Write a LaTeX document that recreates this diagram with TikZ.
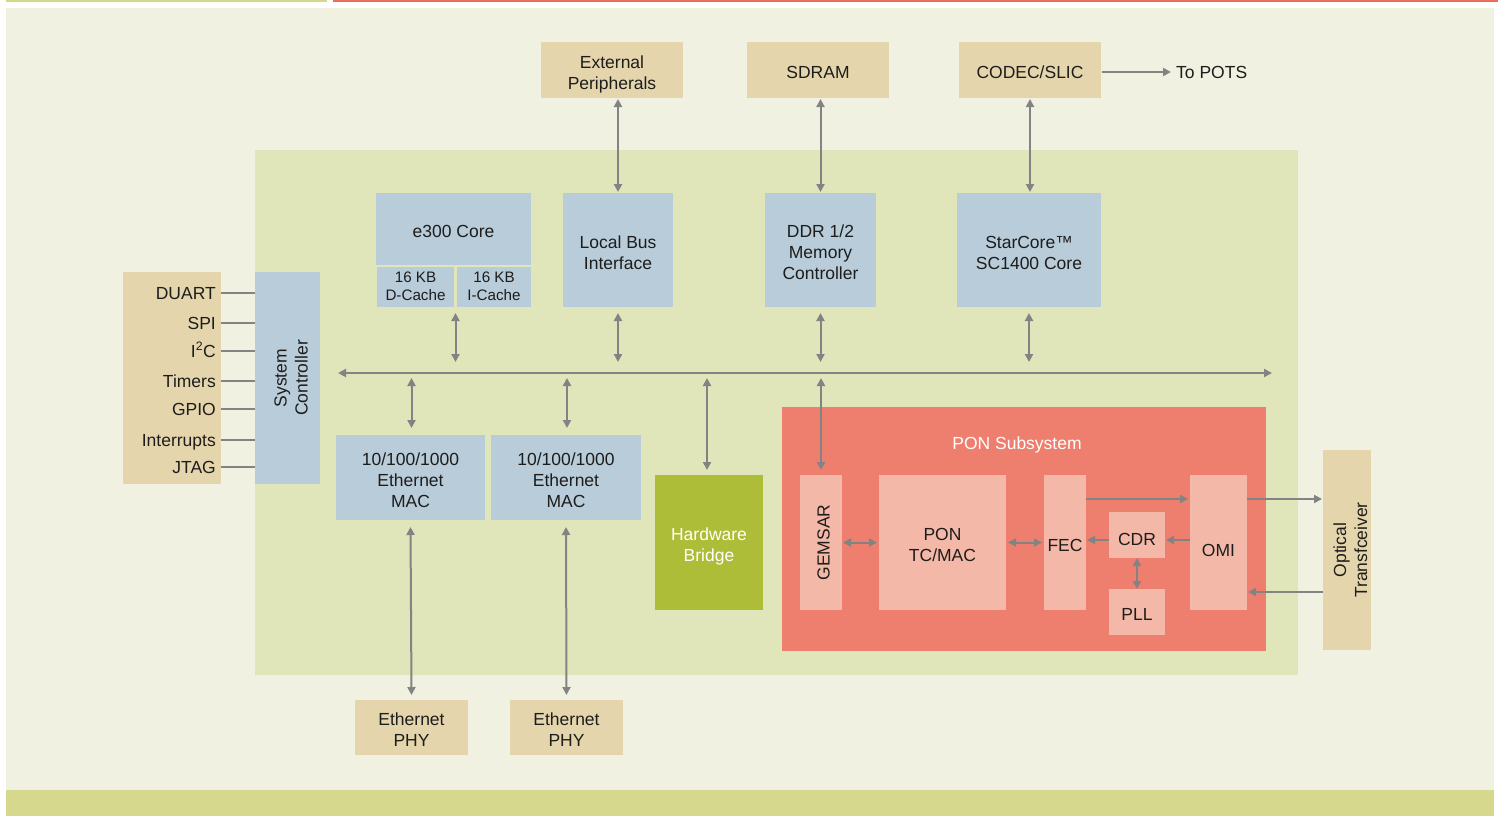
\documentclass[tikz,border=0pt]{standalone}
\usepackage{fontspec}
\setmainfont{Liberation Sans}
\usetikzlibrary{arrows.meta,calc}
\definecolor{creambg}{HTML}{F1F1E2}
\definecolor{chipbg}{HTML}{E1E5BA}
\definecolor{stripc}{HTML}{D6D88E}
\definecolor{topgreen}{HTML}{D4D98A}
\definecolor{topred}{HTML}{EE6B5B}
\definecolor{tanc}{HTML}{E5D5AC}
\definecolor{bluec}{HTML}{B9CCDA}
\definecolor{ponc}{HTML}{EE7F6F}
\definecolor{pinkc}{HTML}{F4B8A8}
\definecolor{hwc}{HTML}{AEBD37}
\definecolor{arrc}{HTML}{838383}
\definecolor{txt}{HTML}{1D1D1B}
\def\lsT{21.2pt}
\def\lsD{4pt}
\newcommand\tstrut{\rule{0pt}{\lsT}}
\newcommand\bstrut{\rule[-\lsD]{0pt}{\lsD}}
\newcommand\bx[7]{\node[boxbase,#6, minimum width={(#4-#2)*1pt}, minimum height={(#5-#3)*1pt}] (#1) at ({(#2+#4)/2},{(#3+#5)/2}) {\tstrut#7\bstrut};}
\tikzset{
  boxbase/.style={inner sep=0pt, outer sep=0pt, align=center, text=txt, font=\fontsize{17.5}{21}\selectfont},
  tanbox/.style={fill=tanc},
  bluebox/.style={fill=bluec},
  pinkbox/.style={fill=pinkc},
  hwbox/.style={fill=hwc, text=white},
  lbl/.style={inner sep=0pt, text=txt, font=\fontsize{17.5}{21}\selectfont, align=center},
  darr/.style={draw=arrc, line width=2pt, {Triangle[length=8pt,width=8pt]}-{Triangle[length=8pt,width=8pt]}},
  arr/.style={draw=arrc, line width=2pt, -{Triangle[length=8pt,width=8pt]}},
  pline/.style={draw=arrc, line width=2.2pt}
}
\begin{document}
\begin{tikzpicture}[x=1pt,y=-1pt]
\useasboundingbox (0,0) rectangle (1498,816);
% backgrounds
\fill[creambg] (6,8) rectangle (1494,790);
\fill[stripc] (6,790) rectangle (1494,816);
\fill[topgreen] (6,0) rectangle (327,2);
\fill[topred] (333,0) rectangle (1498,2);
\fill[chipbg] (255,150) rectangle (1298,675);

% top external boxes
\bx{ext}{541}{42}{683}{98}{tanbox}{External\\Peripherals}
\bx{sdram}{747}{42}{889}{98}{tanbox}{SDRAM}
\bx{codec}{959}{42}{1101}{98}{tanbox}{CODEC/SLIC}
\node[lbl, anchor=west] (pots) at (1176,69.5) {\tstrut To POTS\bstrut};

% inner top boxes
\bx{e300}{376}{193}{531}{265}{bluebox}{e300 Core}
\bx{dc}{377}{267}{454}{307}{bluebox,font={\fontsize{15.2}{18}\selectfont\def\lsT{12.9pt}}}{16 KB\\D-Cache}
\bx{ic}{457}{267}{531}{307}{bluebox,font={\fontsize{15.2}{18}\selectfont\def\lsT{12.9pt}}}{16 KB\\I-Cache}
\bx{lbi}{563}{193}{673}{307}{bluebox}{Local Bus\\Interface}
\bx{ddr}{765}{193}{876}{307}{bluebox}{DDR 1/2\\Memory\\Controller}
\bx{sc14}{957}{193}{1101}{307}{bluebox}{StarCore™\\SC1400 Core}

% system controller and peripherals
\bx{periph}{123}{272}{221}{484}{tanbox}{}
\bx{sysc}{255}{272}{320}{484}{bluebox}{}
\node[lbl, rotate=90] at ([xshift=1pt]sysc.center) {\tstrut System\\Controller\bstrut};
\foreach \nm/\t/\yy in {duart/DUART/293, spi/SPI/323, itc/{I\textsuperscript{2}C}/351, tim/Timers/381, gpio/GPIO/409, intr/Interrupts/440, jtag/JTAG/467}{
  \node[lbl, anchor=east] (\nm) at (216,\yy-2.5) {\tstrut\t\bstrut};
  \draw[pline] (periph.east |- 0,\yy) -- (sysc.west |- 0,\yy);
}

% bus
\coordinate (busL) at (338,373);
\coordinate (busR) at (1272,373);
\draw[darr] (busL) -- (busR);

% MACs etc
\bx{mac1}{336}{435}{485}{520}{bluebox}{10/100/1000\\Ethernet\\MAC}
\bx{mac2}{491}{435}{641}{520}{bluebox}{10/100/1000\\Ethernet\\MAC}
\bx{hwb}{655}{475}{763}{610}{hwbox}{Hardware\\Bridge}
\bx{phy1}{355}{700}{468}{755}{tanbox}{Ethernet\\PHY}
\bx{phy2}{510}{700}{623}{755}{tanbox}{Ethernet\\PHY}

% PON subsystem
\bx{pon}{782}{407}{1266}{651}{fill=ponc}{}
\node[lbl, text=white] (pontitle) at (1017,440.5) {\tstrut PON Subsystem\bstrut};
\bx{gem}{800}{475}{842}{610}{pinkbox}{}
\node[lbl, rotate=90] at (gem) {\tstrut GEMSAR\bstrut};
\bx{tcm}{879}{475}{1006}{610}{pinkbox}{PON\\TC/MAC}
\bx{fec}{1044}{475}{1086}{610}{pinkbox}{FEC}
\bx{cdr}{1109}{512}{1165}{558}{pinkbox}{}
\node[lbl] at ([yshift=-1.5pt]cdr.center) {\tstrut CDR\bstrut};
\bx{pll}{1109}{589}{1165}{635}{pinkbox}{PLL}
\bx{omi}{1190}{475}{1247}{610}{pinkbox}{}
\node[lbl] at ([yshift=-5pt]omi.center) {\tstrut OMI\bstrut};

% optical transceiver
\bx{opt}{1323}{450}{1371}{650}{tanbox}{}
\node[lbl, rotate=90] at ([xshift=1pt]opt.center) {\tstrut Optical\\Transfceiver\bstrut};

% top vertical arrows
\draw[darr] ([yshift=-1pt]ext.south -| lbi) -- ([yshift=1pt]lbi.north);
\draw[darr] ([yshift=-1pt]sdram.south -| ddr) -- ([yshift=1pt]ddr.north);
\draw[darr] ([yshift=-1pt]codec.south) -- ([yshift=1pt]sc14.north -| codec);
\coordinate (ce) at ([xshift=1pt, yshift=-2pt]codec.east);
\draw[arr] (ce) -- ([xshift=-5pt]ce -| pots.west);

% arrows to bus from above
\coordinate (e3) at ($(dc.south east)!0.5!(ic.south west)$);
\draw[darr] ([yshift=-6pt]e3) -- ([yshift=11pt]e3 |- busL);
\draw[darr] ([yshift=-6pt]lbi.south) -- ([yshift=11pt]lbi.south |- busL);
\draw[darr] ([yshift=-6pt]ddr.south) -- ([yshift=11pt]ddr.south |- busL);
\draw[darr] ([yshift=-6pt]sc14.south) -- ([yshift=11pt]sc14.south |- busL);

% arrows from bus down
\draw[darr] ([xshift=1pt,yshift=-5pt]mac1.north |- busL) -- ([xshift=1pt,yshift=7pt]mac1.north);
\draw[darr] ([xshift=1pt,yshift=-5pt]mac2.north |- busL) -- ([xshift=1pt,yshift=7pt]mac2.north);
\draw[darr] ([xshift=-2pt,yshift=-5pt]hwb.north |- busL) -- ([xshift=-2pt,yshift=5pt]hwb.north);
\draw[darr] ([yshift=-5pt]gem.north |- busL) -- ([yshift=5pt]gem.north);

% MAC to PHY
\draw[darr] ([yshift=-7pt]mac1.south) -- ([yshift=5pt]phy1.north);
\draw[darr] ([yshift=-7pt]mac2.south) -- ([yshift=5pt]phy2.north);

% PON internals
\draw[darr] ([xshift=1pt]gem.east |- tcm) -- ([xshift=-2pt]tcm.west);
\draw[darr] ([xshift=2pt]tcm.east) -- ([xshift=-2pt]fec.west |- tcm);
\coordinate (fo) at ([yshift=-24pt]fec.north east);
\draw[arr] (fo) -- ([xshift=-2pt]fo -| omi.west);
\coordinate (oc) at ([yshift=-5pt]cdr.east);
\draw[arr] (oc -| omi.west) -- ([xshift=1pt]oc);
\draw[arr] ([yshift=-5pt]cdr.west) -- ([xshift=1pt, yshift=-5pt]cdr.west -| fec.east);
\draw[darr] (cdr.south) -- (pll.north);
\coordinate (oo) at ([yshift=-24pt]omi.north east);
\draw[arr] (oo) -- ([xshift=-1pt]oo -| opt.west);
\coordinate (io) at ([yshift=-142pt]opt.north west);
\draw[arr] (io) -- ([xshift=1pt]io -| omi.east);
\end{tikzpicture}
\end{document}
